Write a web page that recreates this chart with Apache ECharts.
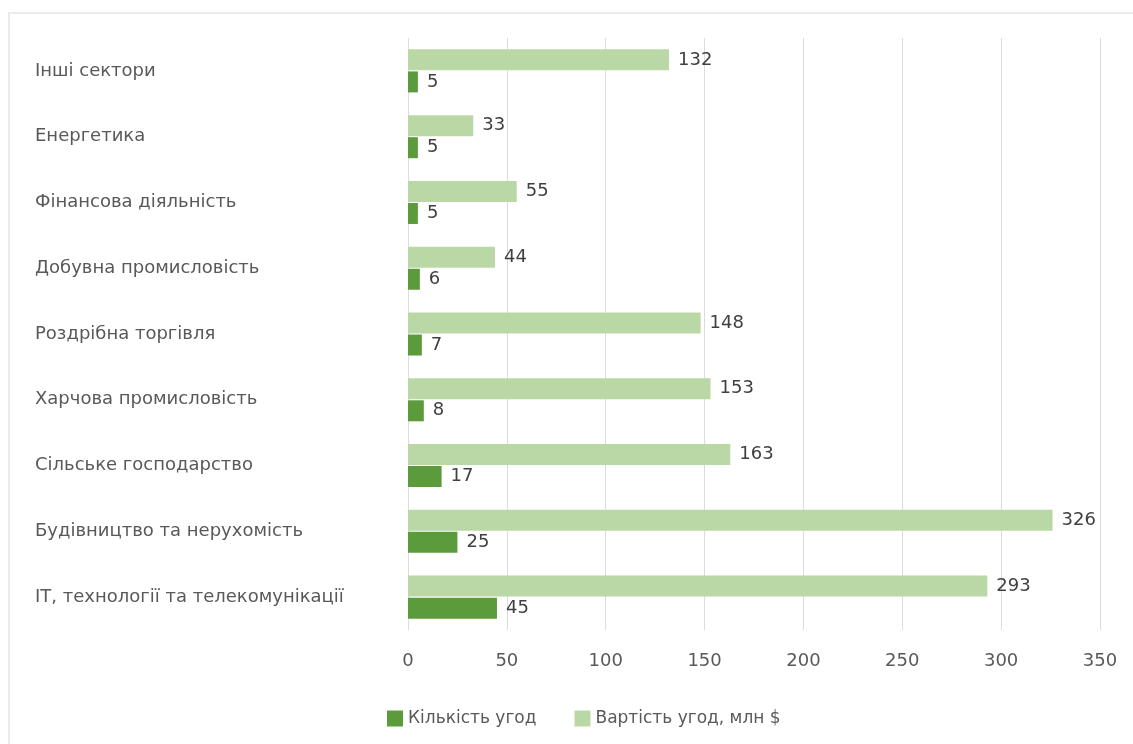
<!DOCTYPE html>
<html>
<head>
<meta charset="utf-8">
<script src="https://cdn.jsdelivr.net/npm/echarts@6/dist/echarts.min.js"></script>
<style>
  html, body { margin: 0; padding: 0; background: #fff; }
  #frame { position: absolute; left: 8px; top: 12px; width: 1200px; height: 800px; border-left: 2px solid #ebebeb; border-top: 2px solid #ebebeb; }
  #chart { position: absolute; left: 0; top: 0; width: 1133px; height: 744px; }
</style>
</head>
<body>
<div id="frame"></div>
<div id="chart"></div>
<script>
const categories = [
  'IT, технології та телекомунікації',
  'Будівництво та нерухомість',
  'Сільське господарство',
  'Харчова промисловість',
  'Роздрібна торгівля',
  'Добувна промисловість',
  'Фінансова діяльність',
  'Енергетика',
  'Інші сектори'
];
const dealCount = [45, 25, 17, 8, 7, 6, 5, 5, 5];
const dealValue = [293, 326, 163, 153, 148, 44, 55, 33, 132];
const seriesNames = ['Кількість угод', 'Вартість угод, млн $'];
const xTicks = { min: 0, max: 350, interval: 50 };

const FONT = '"DejaVu Sans", sans-serif';
const chart = echarts.init(document.getElementById('chart'), null, { renderer: 'canvas' });
chart.setOption({
  animation: false,
  textStyle: { fontFamily: FONT },
  grid: { left: 408, right: 33, top: 38, bottom: 114, containLabel: false },
  legend: {
    data: seriesNames,
    left: 382, top: 705,
    icon: 'rect', itemWidth: 16, itemHeight: 16, itemGap: 38, itemTextGap: 6,
    textStyle: { color: '#595959', fontSize: 17, fontFamily: FONT }
  },
  xAxis: {
    type: 'value', min: xTicks.min, max: xTicks.max, interval: xTicks.interval,
    axisLine: { show: false }, axisTick: { show: false },
    splitLine: { lineStyle: { color: '#dcdcdc', width: 1 } },
    axisLabel: { color: '#595959', fontSize: 18, margin: 22, fontFamily: FONT }
  },
  yAxis: {
    type: 'category', data: categories,
    axisLine: { show: false }, axisTick: { show: false },
    axisLabel: { color: '#595959', fontSize: 18, align: 'left', margin: 373, padding: [6, 0, 0, 0], fontFamily: FONT }
  },
  series: [
    {
      name: seriesNames[1], type: 'bar', data: dealValue,
      barWidth: 21, barGap: '5%',
      itemStyle: { color: '#bad8a6' },
      label: { show: true, position: 'right', distance: 9, color: '#404040', fontSize: 18, fontFamily: FONT }
    },
    {
      name: seriesNames[0], type: 'bar', data: dealCount,
      barWidth: 21, barGap: '5%',
      itemStyle: { color: '#5c9b3c' },
      label: { show: true, position: 'right', distance: 9, color: '#404040', fontSize: 18, padding: [3, 0, 0, 0], fontFamily: FONT }
    }
  ]
});
</script>
</body>
</html>
